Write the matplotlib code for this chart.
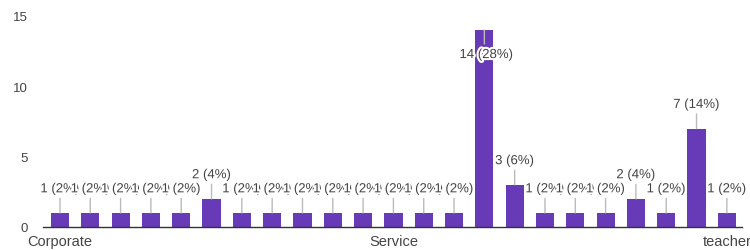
import matplotlib
matplotlib.use("Agg")
import matplotlib.pyplot as plt
import matplotlib.patheffects as pe

# ==========================================================
# DATA
# ==========================================================

counts = [1, 1, 1, 1, 1, 2, 1, 1, 1, 1, 1, 1, 1, 1, 14, 3, 1, 1, 1, 2, 1, 7, 1]
percents = [2, 2, 2, 2, 2, 4, 2, 2, 2, 2, 2, 2, 2, 2, 28, 6, 2, 2, 2, 4, 2, 14, 2]

tick_positions = [0, 11, 22]
tick_labels = ["Corporate", "Service", "teacher"]

y_ticks = [0, 5, 10, 15]

BAR_COLOR = "#673ab7"
TEXT_COLOR = "#444444"

plt.rcParams["font.family"] = ["Liberation Sans", "DejaVu Sans"]

# ==========================================================
# FIGURE
# ==========================================================

fig = plt.figure(figsize=(7.5, 2.51), dpi=100)
ax = fig.add_axes([43 / 750, 23 / 251, 699 / 750, 211 / 251])

x = list(range(len(counts)))
ax.bar(x, counts, width=0.6, color=BAR_COLOR, zorder=2)

ax.set_xlim(-0.56, 22.5)
ax.set_ylim(0, 15)

for s in ["top", "right", "left"]:
    ax.spines[s].set_visible(False)
ax.spines["bottom"].set_color("#333333")
ax.spines["bottom"].set_linewidth(1)
ax.spines["bottom"].set_zorder(3)

ax.set_yticks(y_ticks)
ax.set_yticklabels([str(v) for v in y_ticks])
ax.set_xticks(tick_positions)
ax.set_xticklabels(tick_labels)
ax.tick_params(axis="y", length=0, pad=11, labelsize=9.5, labelcolor=TEXT_COLOR)
ax.tick_params(axis="x", length=0, pad=5, labelsize=10.5, labelcolor=TEXT_COLOR)

# ==========================================================
# VALUE LABELS
# ==========================================================

halo = [pe.withStroke(linewidth=3, foreground="white")]

for xi, c, p in zip(x, counts, percents):
    label = f"{c} ({p}%)"
    if c >= 13:
        # no room above, label sits inside the bar
        ax.annotate("", xy=(xi, c), xytext=(0, -10), textcoords="offset points",
                    arrowprops=dict(arrowstyle="-", color="#bbbbbb", lw=1,
                                    shrinkA=0, shrinkB=0), zorder=3)
        ax.annotate(label, xy=(xi, c), xytext=(1.5, -18), textcoords="offset points",
                    ha="center", va="center", fontsize=9.5, color=TEXT_COLOR,
                    path_effects=halo, zorder=4)
    else:
        ax.annotate("", xy=(xi, c), xytext=(0, 10.5), textcoords="offset points",
                    arrowprops=dict(arrowstyle="-", color="#bbbbbb", lw=1,
                                    shrinkA=0, shrinkB=0), zorder=3)
        ax.annotate(label, xy=(xi, c), xytext=(0, 17), textcoords="offset points",
                    ha="center", va="center", fontsize=9.5, color=TEXT_COLOR,
                    path_effects=halo, zorder=4)

fig.savefig("out.png", dpi=100)
